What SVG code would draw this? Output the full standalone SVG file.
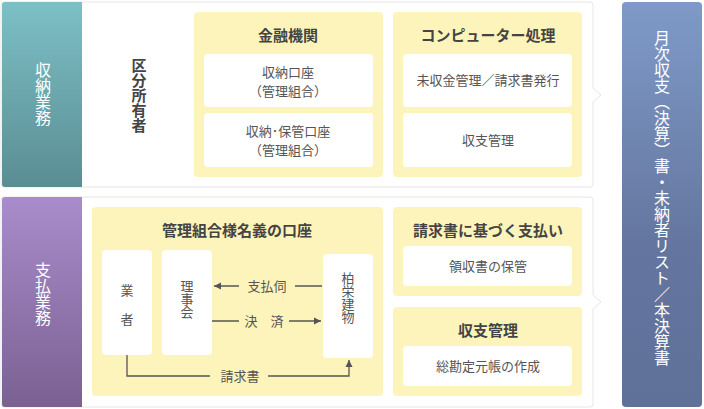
<svg xmlns="http://www.w3.org/2000/svg" width="704" height="409" viewBox="0 0 704 409">
<style>
text{font-family:"Noto Sans CJK JP","Noto Sans",sans-serif;fill:#444}
.h{font-size:15px;font-weight:bold;text-anchor:middle}
.t{font-size:13px;text-anchor:middle;fill:#555}
.w{font-size:16px;fill:#fff;text-anchor:middle}
.gold{fill:#fdf4bb}
.wb{fill:#fff}
.ln{stroke:#555;stroke-width:1.3;fill:none}
</style>
<defs>
<linearGradient id="teal" x1="0" y1="0" x2="0" y2="1"><stop offset="0" stop-color="#7cc0c6"/><stop offset="1" stop-color="#5a8d93"/></linearGradient>
<linearGradient id="purp" x1="0" y1="0" x2="0" y2="1"><stop offset="0" stop-color="#a98ccb"/><stop offset="1" stop-color="#7a6192"/></linearGradient>
<linearGradient id="blue" x1="0" y1="0" x2="0" y2="1"><stop offset="0" stop-color="#7f9ac8"/><stop offset="0.6" stop-color="#64769f"/><stop offset="1" stop-color="#5f7099"/></linearGradient>
<marker id="ar" markerWidth="8" markerHeight="8" refX="7" refY="4" orient="auto" markerUnits="userSpaceOnUse"><path d="M0,0.5 L7,4 L0,7.5z" fill="#555"/></marker>
</defs>
<rect width="704" height="409" fill="#fff"/>
<g id="panel-top">
<path d="M4,2 H590 a3,3 0 0 1 3,3 V88 L601,95 L593,102 V184 a3,3 0 0 1 -3,3 H4 a3,3 0 0 1 -3,-3 V5 a3,3 0 0 1 3,-3z" fill="#fff" stroke="#e6e6e6"/>
<path d="M5,2 H82 V187 H5 a3,3 0 0 1 -3,-3 V5 a3,3 0 0 1 3,-3z" fill="url(#teal)"/>
<text class="w" x="43" y="62" style="writing-mode:vertical-rl;text-anchor:start">収納業務</text>
</g>
<g id="owner"><text class="h" font-size="16px" x="139" y="58" style="writing-mode:vertical-rl;text-anchor:start">区分所有者</text></g>
<g id="bank">
<rect class="gold" x="194" y="12" width="189" height="165" rx="4"/>
<text class="h" x="288" y="41">金融機関</text>
<rect class="wb" x="204" y="54" width="169" height="53" rx="4"/>
<text class="t" x="288" y="77">収納口座</text><text class="t" x="288" y="96">（管理組合）</text>
<rect class="wb" x="204" y="113" width="169" height="54" rx="4"/>
<text class="t" x="288" y="136">収納･保管口座</text><text class="t" x="288" y="155">（管理組合）</text>
</g>
<g id="computer">
<rect class="gold" x="393" y="12" width="189" height="165" rx="4"/>
<text class="h" x="488" y="41">コンピューター処理</text>
<rect class="wb" x="403" y="54" width="169" height="53" rx="4"/>
<text class="t" x="488" y="85">未収金管理／請求書発行</text>
<rect class="wb" x="403" y="113" width="169" height="54" rx="4"/>
<text class="t" x="488" y="145">収支管理</text>
</g>
<g id="panel-bottom">
<path d="M4,197 H590 a3,3 0 0 1 3,3 V295 L601,302 L593,309 V404 a3,3 0 0 1 -3,3 H4 a3,3 0 0 1 -3,-3 V200 a3,3 0 0 1 3,-3z" fill="#fff" stroke="#e6e6e6"/>
<path d="M5,197 H82 V407 H5 a3,3 0 0 1 -3,-3 V200 a3,3 0 0 1 3,-3z" fill="url(#purp)"/>
<text class="w" x="43" y="262" style="writing-mode:vertical-rl;text-anchor:start">支払業務</text>
</g>
<g id="account">
<rect class="gold" x="92" y="207" width="291" height="189" rx="4"/>
<text class="h" x="237" y="236">管理組合様名義の口座</text>
</g>
<g id="gyosha"><rect class="wb" x="102" y="250" width="50" height="105" rx="4"/>
<text class="t" x="127" y="295">業</text><text class="t" x="127" y="324">者</text></g>
<g id="rijikai"><rect class="wb" x="162" y="250" width="50" height="105" rx="4"/>
<text class="t" x="187" y="280" style="writing-mode:vertical-rl;text-anchor:start">理事会</text></g>
<g id="hakuei"><rect class="wb" x="323" y="254" width="50" height="104" rx="4"/>
<text class="t" x="348" y="272" style="writing-mode:vertical-rl;text-anchor:start">柏栄建物</text></g>
<g id="connectors">
<path class="ln" d="M322,286 H295 M239,286 H214" marker-end="url(#ar)"/>
<path class="ln" d="M212,321 H239 M289,321 H321" marker-end="url(#ar)"/>
<path class="ln" d="M127,355 V376 H210 M268,376 H349 V360" marker-end="url(#ar)"/>
<text class="t" x="267" y="291">支払伺</text>
<text class="t" x="264" y="326">決　済</text>
<text class="t" x="240" y="381">請求書</text>
</g>
<g id="payment">
<rect class="gold" x="393" y="207" width="189" height="89" rx="4"/>
<text class="h" x="488" y="236">請求書に基づく支払い</text>
<rect class="wb" x="403" y="246" width="169" height="40" rx="4"/>
<text class="t" x="488" y="271">領収書の保管</text>
</g>
<g id="balance">
<rect class="gold" x="393" y="307" width="189" height="89" rx="4"/>
<text class="h" x="488" y="336">収支管理</text>
<rect class="wb" x="403" y="346" width="169" height="40" rx="4"/>
<text class="t" x="488" y="371">総勘定元帳の作成</text>
</g>
<g id="report">
<rect x="622" y="2" width="80" height="405" rx="4" fill="url(#blue)"/>
<text class="w" x="662" y="30" style="writing-mode:vertical-rl;text-anchor:start">月次収支（決算）書・未納者リスト／本決算書</text>
</g>
</svg>
